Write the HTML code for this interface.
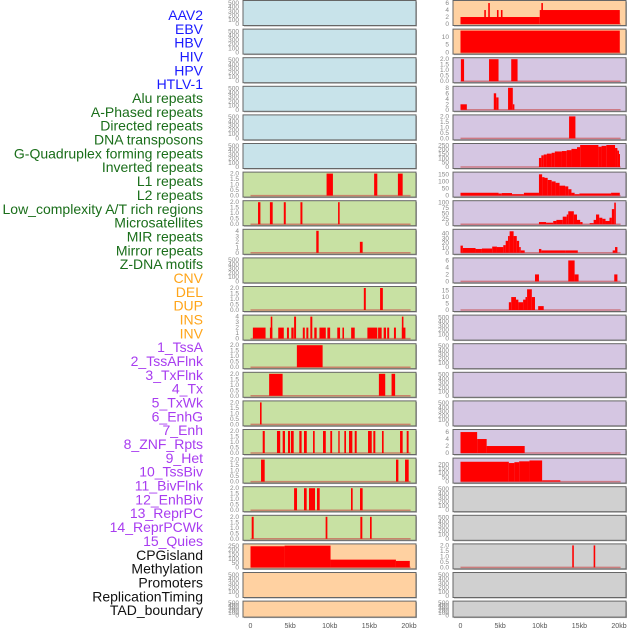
<!DOCTYPE html>
<html><head><meta charset="utf-8"><style>
html,body{margin:0;padding:0;background:#fff;width:630px;height:630px;overflow:hidden}
svg{display:block;font-family:"Liberation Sans",sans-serif}
</style></head><body>
<svg id="chart" width="630" height="630"></svg>
<script>
const NS='http://www.w3.org/2000/svg';
const svg=document.getElementById('chart');
// ---- data ----
const labels=["AAV2","EBV","HBV","HIV","HPV","HTLV-1","Alu repeats","A-Phased repeats","Directed repeats","DNA transposons","G-Quadruplex forming repeats","Inverted repeats","L1 repeats","L2 repeats","Low_complexity A/T rich regions","Microsatellites","MIR repeats","Mirror repeats","Z-DNA motifs","CNV","DEL","DUP","INS","INV","1_TssA","2_TssAFlnk","3_TxFlnk","4_Tx","5_TxWk","6_EnhG","7_Enh","8_ZNF_Rpts","9_Het","10_TssBiv","11_BivFlnk","12_EnhBiv","13_ReprPC","14_ReprPCWk","15_Quies","CPGisland","Methylation","Promoters","ReplicationTiming","TAD_boundary"];
const labelColors=["#1a1aff","#1a1aff","#1a1aff","#1a1aff","#1a1aff","#1a1aff","#1a6e1a","#1a6e1a","#1a6e1a","#1a6e1a","#1a6e1a","#1a6e1a","#1a6e1a","#1a6e1a","#1a6e1a","#1a6e1a","#1a6e1a","#1a6e1a","#1a6e1a","#ffa51a","#ffa51a","#ffa51a","#ffa51a","#ffa51a","#a83cf0","#a83cf0","#a83cf0","#a83cf0","#a83cf0","#a83cf0","#a83cf0","#a83cf0","#a83cf0","#a83cf0","#a83cf0","#a83cf0","#a83cf0","#a83cf0","#a83cf0","#111","#111","#111","#111","#111"];
const xTicks=[0,5,10,15,20];
const xTickLabels=["0","5kb","10kb","15kb","20kb"];
const T500=[0,100,200,300,400,500], T2=[0,0.5,1,1.5,2], T4=[0,1,2,3,4];
// panels: column, row, fill, yMax, ticks, segments [startKb,endKb,value]
const fills={blue:"#c8e3ea",green:"#c8e1a3",orange:"#ffd1a1",purple:"#d5c6e2",gray:"#d0d0d0"};
const segL6=[[9.6,10.4,2],[15.6,16.0,2],[18.6,19.2,2]];
const segL7=[[0.95,1.25,2],[2.45,2.8,2],[4.2,4.45,2],[6.3,6.55,2],[11.05,11.25,2]];
const segL8=[[8.3,8.6,4],[13.8,14.15,2]];
const segL10=[[14.3,14.55,2],[16.35,16.7,2]];
const segL11=[[0.3,1.9,2],[2.45,2.75,2],[2.55,2.75,4],[3.5,4.2,2],[4.6,4.85,2],[5.15,5.45,2],[5.5,5.75,4],[6.6,6.85,2],[7.05,7.3,2],[7.55,7.8,4],[8.05,8.35,2],[8.7,9.5,2],[9.7,10.05,2],[10.95,11.3,2],[11.6,11.8,2],[12.7,13.15,2],[14.75,16.0,2],[16.1,16.55,2],[16.8,17.1,2],[17.25,17.5,2],[18.1,18.35,2],[19.1,19.55,2],[19.1,19.3,4]];
const segL12=[[5.85,9.1,2]];
const segL13=[[2.35,4.05,2],[16.2,17.0,2],[17.8,18.25,2]];
const segL14=[[1.2,1.4,2]];
const segL15=[[1.54,1.8,2],[3.34,3.75,2],[4.06,4.35,2],[4.73,5.0,2],[5.11,5.45,2],[6.16,6.45,2],[6.75,7.1,2],[7.89,8.1,2],[9.15,9.5,2],[10.07,10.3,2],[11.08,11.25,2],[11.84,12.05,2],[12.43,12.85,2],[13.15,13.4,2],[14.83,15.3,2],[15.5,15.75,2],[16.59,16.8,2],[18.87,19.2,2],[19.71,19.95,2]];
const segL16=[[1.33,1.79,2],[18.36,18.66,2],[19.5,19.96,2]];
const segL17=[[5.5,5.87,2],[6.75,7.09,2],[7.38,8.14,2],[8.39,8.73,2],[12.68,12.89,2],[13.82,14.15,2]];
const segL18=[[0.15,0.4,2],[9.48,9.7,2],[13.86,14.11,2],[15.08,15.29,2]];
const segL19=[[0,4.3,245],[4.3,10.1,252],[10.1,18.35,90],[18.35,20.1,75]];
const segR0=[[0,10,2],[10,20.1,4],[3.0,3.2,4],[3.5,3.7,6],[4.6,4.8,4],[5.1,5.3,4],[10.2,10.4,6]];
const segR1=[[0,20.1,14]];
const segR2=[[0.05,0.45,2],[3.6,4.8,2],[6.4,7.2,2]];
const segR3=[[0,0.8,2],[4.2,4.5,6],[4.5,4.8,4.5],[6.0,6.6,8],[6.6,6.8,2]];
const segR4=[[13.7,14.5,2]];
const segR5=[[9.9,10.2,105],[10.2,10.5,135],[10.5,10.9,145],[10.9,11.5,155],[11.5,11.9,165],[11.9,12.8,180],[12.8,13.4,185],[13.4,14.0,195],[14.0,14.7,210],[14.7,15.1,230],[15.1,17.4,255],[17.4,17.8,235],[17.8,18.4,245],[18.4,19.5,255],[19.5,19.8,220],[19.8,20.0,190],[20.0,20.1,150]];
const segR6=[[0,4.8,20],[4.8,5.2,15],[5.2,6.5,18],[6.5,8.0,10],[8.0,9.9,20],[9.9,10.3,150],[10.3,10.6,130],[10.6,11,125],[11,11.5,110],[11.5,12,100],[12,12.5,90],[12.5,13.2,70],[13.2,13.6,65],[13.6,14,45],[14,14.4,20],[14.4,15,10],[15,19,15],[19,20.1,20]];
const segR7=[[9.9,10.8,10],[10.8,11.7,7],[11.7,12.1,15],[12.1,12.9,20],[12.9,13.4,35],[13.4,13.6,45],[13.6,14.3,60],[14.3,14.7,45],[14.7,15.1,20],[15.1,15.4,10],[16.3,16.8,5],[16.8,17.1,20],[17.1,17.5,45],[17.5,17.9,30],[17.9,18.3,25],[18.3,18.8,15],[18.8,19.1,30],[19.1,19.4,70],[19.4,19.6,100]];
const segR8=[[0,0.3,15],[0.3,1.9,10],[1.9,2.7,8],[2.7,4.0,9],[4.0,4.6,13],[4.6,5.4,12],[5.4,5.7,16],[5.7,6.0,25],[6.0,6.2,35],[6.2,6.7,45],[6.7,7.1,35],[7.1,7.4,25],[7.4,7.6,12],[7.6,8.1,5],[9.9,10.2,8],[10.2,13.2,5],[13.2,14.8,5],[19.2,19.5,5],[19.5,19.8,12]];
const segR9=[[9.4,9.9,2],[13.6,14.4,6],[14.4,14.9,2],[19.4,19.8,2]];
const segR10=[[6.1,6.4,6],[6.4,7.0,10],[7.0,7.3,8],[7.3,7.9,6],[7.9,8.2,8],[8.2,8.4,10],[8.4,9.0,16],[9.0,9.4,10],[9.8,10.5,3]];
const segR15=[[0,2.1,6],[2.1,3.3,4],[3.3,8.1,2]];
const segR16=[[0,6.1,230],[6.1,6.8,215],[6.8,7.4,225],[7.4,8.7,235],[8.7,10.3,245],[10.3,12.6,15]];
const segR19=[[14.1,14.3,2],[16.8,17.0,2]];
const panels=[
 ["L",0,"blue",520,T500,null],["L",1,"blue",520,T500,null],["L",2,"blue",520,T500,null],["L",3,"blue",520,T500,null],["L",4,"blue",520,T500,null],["L",5,"blue",520,T500,null],
 ["L",6,"green",2,T2,segL6],["L",7,"green",2,T2,segL7],["L",8,"green",4,T4,segL8],["L",9,"green",520,T500,null],["L",10,"green",2,T2,segL10],["L",11,"green",4,T4,segL11],["L",12,"green",2,T2,segL12],["L",13,"green",2,T2,segL13],["L",14,"green",2,T2,segL14],["L",15,"green",2,T2,segL15],["L",16,"green",2,T2,segL16],["L",17,"green",2,T2,segL17],["L",18,"green",2,T2,segL18],
 ["L",19,"orange",255,[0,50,100,150,200,250],segL19],["L",20,"orange",520,T500,null],["L",21,"orange",520,T500,null],
 ["R",0,"orange",6.3,[0,2,4,6],segR0],["R",1,"orange",14,[0,5,10],segR1],["R",2,"purple",2,T2,segR2],["R",3,"purple",8,[0,2,4,6,8],segR3],["R",4,"purple",2,T2,segR4],["R",5,"purple",255,[0,50,100,150,200,250],segR5],["R",6,"purple",155,[0,50,100,150],segR6],["R",7,"purple",102,[0,25,50,75,100],segR7],["R",8,"purple",46,[0,10,20,30,40],segR8],["R",9,"purple",6.3,[0,2,4,6],segR9],["R",10,"purple",17,[0,5,10,15],segR10],
 ["R",11,"purple",520,T500,null],["R",12,"purple",520,T500,null],["R",13,"purple",520,T500,null],["R",14,"purple",520,T500,null],["R",15,"purple",6.3,[0,2,4,6],segR15],["R",16,"purple",255,[0,50,100,150,200],segR16],
 ["R",17,"gray",520,T500,null],["R",18,"gray",520,T500,null],["R",19,"gray",2,T2,segR19],["R",20,"gray",520,T500,null],["R",21,"gray",520,T500,null]
];
// ---- drawing ----
function mk(tag,attrs,parent){const e=document.createElementNS(NS,tag);for(const k in attrs)e.setAttribute(k,attrs[k]);(parent||svg).appendChild(e);return e;}
labels.forEach((t,i)=>{
 const e=mk('text',{x:203,y:20+i*13.84,'text-anchor':'end','font-size':'14',fill:labelColors[i]});
 e.textContent=t;
 
 
});
const colX={L:243,R:453}, PW=173;
function fmt(v,ticks){return ticks===T2?v.toFixed(1):String(v);}
panels.forEach(p=>{
 const [col,row,fill,ymax,ticks,segs]=p;
 const x0=colX[col], top=row*28.6+0.5, h=row===21?16:25;
 const g=mk('g',{});
 
 
 mk('rect',{x:x0+1,y:top+1,width:PW,height:h,fill:'#aaa'},g);
 mk('rect',{x:x0,y:top,width:PW,height:h,fill:fills[fill],stroke:'#666','stroke-width':1},g);
 const yb=top+h-1.5, yt=top+1.5;
 const ys=v=>yb-(v/ymax)*(yb-yt);
 const xs=kb=>x0+7.5+kb*7.925;
 ticks.forEach(v=>{
  const t=mk('text',{x:x0-4,y:ys(v)+2,'text-anchor':'end','font-size':'6.5',fill:'#888'},g);
  t.textContent=fmt(v,ticks);
  
  
 });
 if(segs){
  mk('line',{x1:xs(0),x2:xs(20.2),y1:yb,y2:yb,stroke:'rgba(200,70,70,0.6)','stroke-width':1.5},g);
  segs.forEach(s=>{
   const b=mk('rect',{x:xs(s[0]),y:ys(s[2]),width:Math.max(xs(s[1])-xs(s[0]),1),height:yb-ys(s[2]),fill:'#ff0000'},g);
   
   
  });
 }
});
['L','R'].forEach(c=>{
 xTicks.forEach((v,i)=>{
  const t=mk('text',{x:colX[c]+7.5+v*7.925,y:628,'text-anchor':'middle','font-size':'7',fill:'#555'});
  t.textContent=xTickLabels[i];
  
  
 });
});
</script>
</body></html>
